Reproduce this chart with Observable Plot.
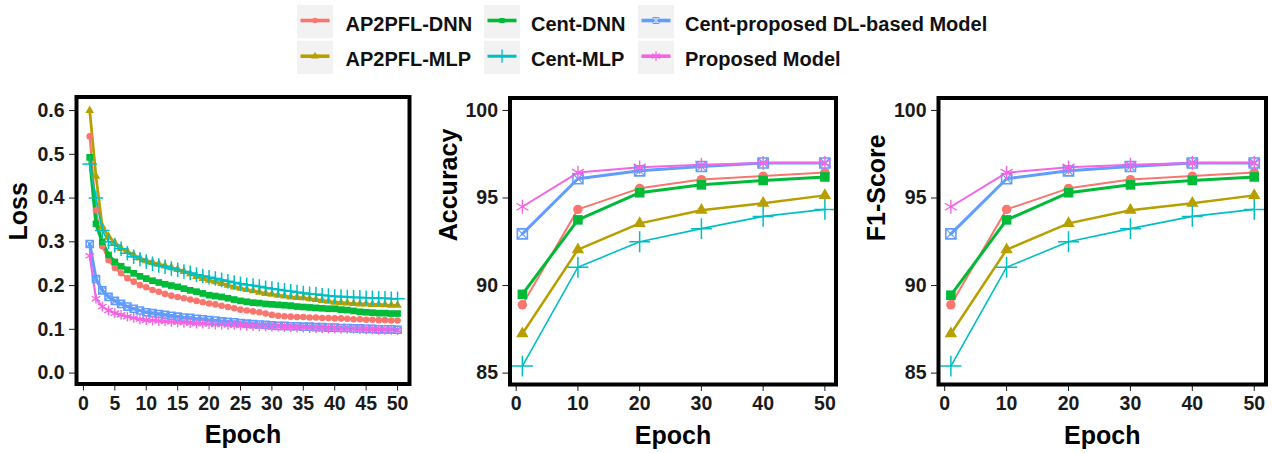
<!DOCTYPE html>
<html>
<head>
<meta charset="utf-8">
<script src="https://cdn.jsdelivr.net/npm/d3@7"></script>
<script src="https://cdn.jsdelivr.net/npm/@observablehq/plot@0.6"></script>
<style>
  body { margin: 0; background: #fff; font-family: "Liberation Sans", Arial, sans-serif; }
  #chart { position: relative; width: 1273px; height: 453px; overflow: hidden; background: #fff; }
  #chart svg { position: absolute; }
</style>
</head>
<body>
<div id="chart"></div>
<script>
// ---------------- data ----------------
const series = ["AP2PFL-DNN", "AP2PFL-MLP", "Cent-DNN", "Cent-MLP", "Cent-proposed DL-based Model", "Proposed Model"];
const colors = ["#F8766D", "#B79F00", "#00BA38", "#00BFC4", "#619CFF", "#F564E3"];

const lossEpochs = [1,2,3,4,5,6,7,8,9,10,11,12,13,14,15,16,17,18,19,20,21,22,23,24,25,
                    26,27,28,29,30,31,32,33,34,35,36,37,38,39,40,41,42,43,44,45,46,47,48,49,50];

const lossAP2PFL_DNN = [
  0.541,0.372,0.290,0.258,0.240,0.228,0.217,0.209,0.201,0.196,
  0.190,0.186,0.181,0.177,0.174,0.171,0.168,0.165,0.162,0.159,
  0.157,0.154,0.151,0.148,0.145,0.143,0.141,0.139,0.136,0.133,
  0.131,0.130,0.129,0.128,0.128,0.127,0.127,0.126,0.126,0.125,
  0.125,0.124,0.123,0.123,0.122,0.122,0.121,0.121,0.120,0.120];
const lossAP2PFL_MLP = [
  0.600,0.450,0.335,0.312,0.298,0.285,0.278,0.270,0.263,0.257,
  0.253,0.249,0.245,0.241,0.237,0.232,0.227,0.221,0.216,0.212,
  0.209,0.205,0.201,0.197,0.194,0.191,0.188,0.185,0.182,0.180,
  0.178,0.176,0.174,0.173,0.172,0.170,0.168,0.166,0.164,0.162,
  0.161,0.160,0.159,0.158,0.158,0.157,0.157,0.156,0.155,0.155];
const lossCent_DNN = [
  0.493,0.341,0.300,0.270,0.254,0.244,0.236,0.228,0.221,0.216,
  0.211,0.207,0.203,0.200,0.197,0.193,0.189,0.186,0.182,0.178,
  0.176,0.174,0.171,0.168,0.165,0.163,0.161,0.160,0.158,0.157,
  0.156,0.155,0.154,0.152,0.151,0.150,0.149,0.148,0.147,0.147,
  0.145,0.144,0.142,0.140,0.139,0.138,0.137,0.137,0.136,0.136];
const lossCent_MLP = [
  0.478,0.400,0.326,0.300,0.292,0.284,0.274,0.266,0.260,0.255,
  0.250,0.246,0.243,0.239,0.236,0.232,0.229,0.225,0.222,0.219,
  0.216,0.213,0.210,0.207,0.204,0.202,0.200,0.198,0.195,0.193,
  0.191,0.189,0.187,0.185,0.183,0.181,0.180,0.178,0.177,0.175,
  0.175,0.174,0.173,0.173,0.172,0.172,0.171,0.171,0.170,0.170];
const lossCentProposed = [
  0.295,0.215,0.189,0.174,0.165,0.158,0.152,0.147,0.143,0.139,
  0.137,0.135,0.133,0.131,0.129,0.127,0.126,0.124,0.123,0.121,
  0.120,0.118,0.117,0.116,0.114,0.113,0.112,0.111,0.110,0.109,
  0.108,0.108,0.107,0.107,0.106,0.106,0.105,0.105,0.104,0.104,
  0.103,0.103,0.102,0.102,0.101,0.101,0.100,0.100,0.100,0.099];
const lossProposed = [
  0.268,0.170,0.152,0.143,0.137,0.133,0.129,0.126,0.123,0.121,
  0.120,0.119,0.118,0.117,0.116,0.115,0.114,0.113,0.113,0.112,
  0.111,0.111,0.110,0.110,0.109,0.108,0.108,0.107,0.107,0.106,
  0.106,0.105,0.105,0.104,0.104,0.103,0.103,0.103,0.102,0.102,
  0.101,0.101,0.101,0.100,0.100,0.100,0.099,0.099,0.099,0.098];

const metricEpochs = [1, 10, 20, 30, 40, 50];

const accAP2PFL_DNN    = [88.90, 94.35, 95.55, 96.05, 96.25, 96.45];
const accAP2PFL_MLP    = [87.25, 92.05, 93.55, 94.30, 94.70, 95.15];
const accCent_DNN      = [89.50, 93.75, 95.30, 95.75, 96.00, 96.20];
const accCent_MLP      = [85.40, 91.05, 92.50, 93.25, 93.95, 94.35];
const accCentProposed  = [92.95, 96.10, 96.55, 96.80, 97.00, 97.00];
const accProposed      = [94.50, 96.45, 96.75, 96.90, 97.00, 97.00];

const f1AP2PFL_DNN     = [88.90, 94.35, 95.55, 96.05, 96.25, 96.45];
const f1AP2PFL_MLP     = [87.25, 92.05, 93.55, 94.30, 94.70, 95.15];
const f1Cent_DNN       = [89.45, 93.75, 95.30, 95.75, 96.00, 96.20];
const f1Cent_MLP       = [85.40, 91.05, 92.50, 93.25, 93.95, 94.35];
const f1CentProposed   = [92.95, 96.10, 96.55, 96.80, 97.00, 97.00];
const f1Proposed       = [94.50, 96.45, 96.75, 96.90, 97.00, 97.00];

const lossTicksY = [0, 0.1, 0.2, 0.3, 0.4, 0.5, 0.6];
const lossTicksX = [0, 5, 10, 15, 20, 25, 30, 35, 40, 45, 50];
const metricTicksY = [85, 90, 95, 100];
const metricTicksX = [0, 10, 20, 30, 40, 50];

// ---------------- styling ----------------
const lineWidths = [2, 2.5, 3, 1.6, 3, 2];
const chart = document.getElementById("chart");
const FONT = "'Liberation Sans', Arial, sans-serif";

function makePanel(cfg) {
  const rows = [];
  cfg.values.forEach((vals, i) => vals.forEach((v, j) => rows.push({s: i, epoch: cfg.epochs[j], value: v})));
  const sub = i => rows.filter(d => d.s === i);
  const k = cfg.markerScale;
  const xy = {x: "epoch", y: "value"};
  const marks = [];
  series.forEach((name, i) => {
    marks.push(Plot.line(sub(i), {...xy, stroke: colors[i], strokeWidth: lineWidths[i] * cfg.lineScale}));
  });
  marks.push(Plot.dot(sub(0), {...xy, symbol: "circle", fill: colors[0], stroke: "none", r: 4.7 * k}));
  marks.push(Plot.dot(sub(1), {...xy, symbol: "triangle", fill: colors[1], stroke: "none", r: 4.6 * k}));
  marks.push(Plot.dot(sub(2), {...xy, symbol: "square", fill: colors[2], stroke: "none", r: 5.4 * k}));
  marks.push(Plot.dot(sub(3), {...xy, symbol: "plus", fill: "none", stroke: colors[3], strokeWidth: 1.5, r: 6.8 * k}));
  marks.push(Plot.dot(sub(4), {...xy, symbol: "square2", fill: "none", stroke: colors[4], strokeWidth: 1.6, r: 6.4 * k}));
  marks.push(Plot.dot(sub(4), {...xy, symbol: "times", fill: "none", stroke: colors[4], strokeWidth: 1.1, r: 4.6 * k}));
  marks.push(Plot.dot(sub(5), {...xy, symbol: "asterisk", fill: "none", stroke: colors[5], strokeWidth: 1.4, r: 6.6 * k}));
  marks.push(Plot.frame({stroke: "black", strokeWidth: 4}));
  marks.push(Plot.text([cfg.ylabel], {text: d => d, frameAnchor: "left", dx: cfg.titleDx, rotate: -90,
    fontSize: 25, fontWeight: "bold", fill: "black"}));
  marks.push(Plot.text(["Epoch"], {text: d => d, frameAnchor: "bottom", dy: 59,
    fontSize: 25, fontWeight: "bold", fill: "black"}));

  const svg = Plot.plot({
    width: cfg.width,
    height: 365,
    marginLeft: cfg.marginLeft,
    marginRight: cfg.marginRight,
    marginTop: cfg.marginTop,
    marginBottom: cfg.marginBottom,
    x: {domain: cfg.xDomain, ticks: cfg.xTicks, tickSize: 7, tickPadding: 5, label: null, tickFormat: d3.format("d")},
    y: {domain: cfg.yDomain, ticks: cfg.yTicks, tickSize: 7, tickPadding: 5, label: null, tickFormat: cfg.yFormat},
    style: {fontFamily: FONT, fontSize: "19.5px", fontWeight: "bold", color: "#1a1a1a", background: "transparent", overflow: "visible"},
    marks
  });
  svg.style.left = cfg.left + "px";
  svg.style.top = "88px";
  chart.appendChild(svg);
}

makePanel({
  epochs: lossEpochs,
  values: [lossAP2PFL_DNN, lossAP2PFL_MLP, lossCent_DNN, lossCent_MLP, lossCentProposed, lossProposed],
  ylabel: "Loss", titleDx: -58,
  left: 0, width: 420, marginLeft: 76, marginRight: 11, marginTop: 8.5, marginBottom: 69.5,
  xDomain: [-1.1, 51.9], yDomain: [-0.025, 0.631],
  xTicks: lossTicksX, yTicks: lossTicksY, yFormat: d3.format(".1f"),
  markerScale: 0.7, lineScale: 1.1
});

makePanel({
  epochs: metricEpochs,
  values: [accAP2PFL_DNN, accAP2PFL_MLP, accCent_DNN, accCent_MLP, accCentProposed, accProposed],
  ylabel: "Accuracy", titleDx: -61,
  left: 420, width: 425, marginLeft: 89.5, marginRight: 9.5, marginTop: 9.5, marginBottom: 69,
  xDomain: [-1.0, 51.8], yDomain: [84.35, 100.71],
  xTicks: metricTicksX, yTicks: metricTicksY, yFormat: d3.format("d"),
  markerScale: 1, lineScale: 1
});

makePanel({
  epochs: metricEpochs,
  values: [f1AP2PFL_DNN, f1AP2PFL_MLP, f1Cent_DNN, f1Cent_MLP, f1CentProposed, f1Proposed],
  ylabel: "F1-Score", titleDx: -62,
  left: 845, width: 428, marginLeft: 93, marginRight: 7.5, marginTop: 9.5, marginBottom: 69,
  xDomain: [-1.0, 51.9], yDomain: [84.35, 100.71],
  xTicks: metricTicksX, yTicks: metricTicksY, yFormat: d3.format("d"),
  markerScale: 1, lineScale: 1
});

// ---------------- legend ----------------
const boxLefts = [297, 484, 638];
const rowTops = [5, 40.7];
const textLefts = [345.5, 531, 685];
const baselines = [30.7, 65.7];
const legend = d3.create("svg").attr("width", 1273).attr("height", 85)
  .style("left", "0px").style("top", "0px");
const symFill = [
  {t: d3.symbolCircle, size: 22, fill: true},
  {t: d3.symbolTriangle, size: 26, fill: true},
  {t: d3.symbolSquare, size: 26, fill: true},
  {t: d3.symbolPlus, size: 60, fill: false},
  {t: d3.symbolSquare2, size: 40, fill: false},
  {t: d3.symbolAsterisk, size: 60, fill: false}
];
series.forEach((name, i) => {
  const col = Math.floor(i / 2), row = i % 2;
  const bx = boxLefts[col], by = rowTops[row];
  const g = legend.append("g");
  g.append("rect").attr("x", bx).attr("y", by).attr("width", 36).attr("height", 33.3).attr("fill", "#F2F2F2");
  const cy = by + 15.5, cx = bx + 18;
  g.append("line").attr("x1", bx + 3.5).attr("x2", bx + 32.5).attr("y1", cy).attr("y2", cy)
    .attr("stroke", colors[i]).attr("stroke-width", i === 3 ? 3 : 3.6);
  const sf = symFill[i];
  const p = g.append("path").attr("transform", `translate(${cx},${cy})`)
    .attr("d", d3.symbol(sf.t, sf.size)());
  if (sf.fill) p.attr("fill", colors[i]);
  else p.attr("fill", "none").attr("stroke", colors[i]).attr("stroke-width", 1.3);
  if (i === 4) {
    g.append("path").attr("transform", `translate(${cx},${cy})`)
      .attr("d", d3.symbol(d3.symbolTimes, 20)()).attr("fill", "none")
      .attr("stroke", "white").attr("stroke-width", 1);
  }
  g.append("text").attr("x", textLefts[col]).attr("y", baselines[row])
    .attr("font-family", FONT).attr("font-size", 20).attr("font-weight", "bold")
    .attr("fill", "#111").text(name);
});
chart.appendChild(legend.node());
</script>
</body>
</html>
